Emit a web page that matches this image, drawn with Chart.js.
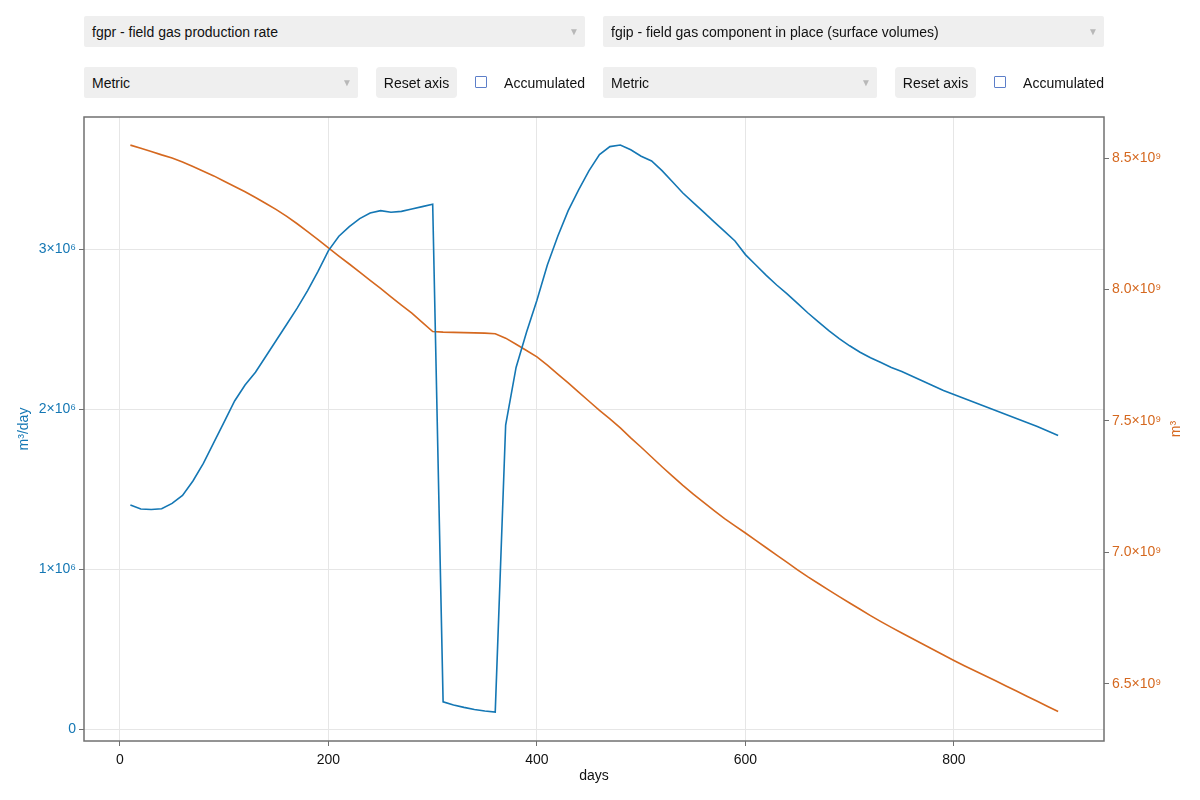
<!DOCTYPE html>
<html>
<head>
<meta charset="utf-8">
<script src="https://cdn.jsdelivr.net/npm/chart.js@4.4.1/dist/chart.umd.min.js"></script>
<style>
  html, body { margin: 0; padding: 0; background: #fff; }
  body { width: 1200px; height: 800px; position: relative; overflow: hidden;
         font-family: "Liberation Sans", Arial, sans-serif; font-size: 14px; color: #111; }
  #wrap { position: absolute; left: 0; top: 0; width: 1200px; height: 800px; }
  .box { position: absolute; background: #efefef; height: 31px; line-height: 32px;
         padding-left: 8px; box-sizing: border-box; border-radius: 2px; }
  .box .arr { position: absolute; right: 6px; top: 0; color: #b8b8b8; font-size: 10px; }
  .btn { position: absolute; background: #efefef; height: 31px; line-height: 32px;
         text-align: center; border-radius: 4px; }
  .chk { position: absolute; width: 10px; height: 10px; border: 1.5px solid #5d7fc9; border-radius: 1px; }
  .lbl { position: absolute; height: 31px; line-height: 32px; text-align: right; }
</style>
</head>
<body>
<div id="wrap"><canvas id="chart" width="1200" height="800"></canvas></div>

<div class="box" style="left:84px;top:16px;width:501px">fgpr - field gas production rate<span class="arr">&#9660;</span></div>
<div class="box" style="left:603px;top:16px;width:501px">fgip - field gas component in place (surface volumes)<span class="arr">&#9660;</span></div>

<div class="box" style="left:84px;top:67px;width:274px">Metric<span class="arr">&#9660;</span></div>
<div class="btn" style="left:376px;top:67px;width:81px">Reset axis</div>
<div class="chk" style="left:475px;top:76px"></div>
<div class="lbl" style="left:500px;top:67px;width:85px">Accumulated</div>

<div class="box" style="left:603px;top:67px;width:274px">Metric<span class="arr">&#9660;</span></div>
<div class="btn" style="left:895px;top:67px;width:81px">Reset axis</div>
<div class="chk" style="left:994px;top:76px"></div>
<div class="lbl" style="left:1019px;top:67px;width:85px">Accumulated</div>

<script>
const days = [
  10, 20, 30, 40, 50, 60, 70, 80, 90, 100,
  110, 120, 130, 140, 150, 160, 170, 180, 190, 200,
  210, 220, 230, 240, 250, 260, 270, 280, 290, 300,
  310, 320, 330, 340, 350, 360, 370, 380, 390, 400,
  410, 420, 430, 440, 450, 460, 470, 480, 490, 500,
  510, 520, 530, 540, 550, 560, 570, 580, 590, 600,
  610, 620, 630, 640, 650, 660, 670, 680, 690, 700,
  710, 720, 730, 740, 750, 760, 770, 780, 790, 800,
  810, 820, 830, 840, 850, 860, 870, 880, 890, 900
];

// fgpr, m3/day (millions)
const fgpr = [
  1.40, 1.375, 1.372, 1.377, 1.41, 1.46, 1.55, 1.66, 1.79, 1.92,
  2.05, 2.15, 2.23, 2.33, 2.43, 2.53, 2.63, 2.74, 2.86, 2.99,
  3.08, 3.14, 3.19, 3.225, 3.24, 3.23, 3.235, 3.25, 3.265, 3.28,
  0.17, 0.15, 0.135, 0.122, 0.112, 0.106, 1.90, 2.26, 2.48, 2.68,
  2.90, 3.08, 3.24, 3.37, 3.49, 3.59, 3.64, 3.65, 3.62, 3.58,
  3.55, 3.49, 3.42, 3.35, 3.29, 3.23, 3.17, 3.11, 3.05, 2.965,
  2.90, 2.835, 2.775, 2.72, 2.66, 2.60, 2.545, 2.49, 2.44, 2.395,
  2.355, 2.32, 2.29, 2.26, 2.235, 2.205, 2.175, 2.145, 2.115, 2.09,
  2.065, 2.04, 2.015, 1.99, 1.965, 1.94, 1.915, 1.89, 1.862, 1.835
];

// fgip, m3 (billions)
const fgip = [
  8.549, 8.537, 8.525, 8.512, 8.500, 8.485, 8.468, 8.450, 8.432, 8.412,
  8.392, 8.372, 8.350, 8.327, 8.304, 8.278, 8.250, 8.220, 8.190, 8.158,
  8.127, 8.097, 8.066, 8.035, 8.004, 7.972, 7.941, 7.910, 7.875, 7.840,
  7.838, 7.837, 7.836, 7.835, 7.834, 7.832, 7.815, 7.792, 7.768, 7.744,
  7.712, 7.678, 7.645, 7.610, 7.575, 7.540, 7.508, 7.474, 7.436, 7.400,
  7.363, 7.326, 7.290, 7.255, 7.222, 7.190, 7.159, 7.129, 7.101, 7.074,
  7.046, 7.018, 6.990, 6.962, 6.934, 6.907, 6.882, 6.857, 6.832, 6.808,
  6.784, 6.760, 6.737, 6.715, 6.694, 6.673, 6.652, 6.631, 6.610, 6.589,
  6.569, 6.550, 6.531, 6.512, 6.492, 6.473, 6.453, 6.434, 6.414, 6.395
];

const xTicks = [0, 200, 400, 600, 800];
const leftTicks = [0, 1e6, 2e6, 3e6];
const leftTickLabels = ["0", "1×10⁶", "2×10⁶", "3×10⁶"];
const rightTicks = [6.5e9, 7.0e9, 7.5e9, 8.0e9, 8.5e9];
const rightTickLabels = ["6.5×10⁹", "7.0×10⁹", "7.5×10⁹", "8.0×10⁹", "8.5×10⁹"];

const blue = "#1477b4";
const orange = "#d5681f";
const frameColor = "#707070";
const font = { family: "Liberation Sans, Arial, sans-serif", size: 14 };

const fixedTicks = (vals) => (scale) => { scale.ticks = vals.map(v => ({ value: v })); };

// frame + axis titles
const decor = {
  id: "decor",
  afterDraw(chart) {
    const { ctx, chartArea: a } = chart;
    ctx.save();
    ctx.strokeStyle = frameColor;
    ctx.lineWidth = 1.5;
    ctx.strokeRect(a.left, a.top, a.right - a.left, a.bottom - a.top);

    ctx.font = "14px Liberation Sans, Arial, sans-serif";
    ctx.textAlign = "center";
    ctx.textBaseline = "middle";
    ctx.fillStyle = "#111";
    ctx.fillText("days", (a.left + a.right) / 2, 776);

    const mid = (a.top + a.bottom) / 2;
    ctx.save();
    ctx.fillStyle = blue;
    ctx.translate(24, mid);
    ctx.rotate(-Math.PI / 2);
    ctx.fillText("m³/day", 0, 0);
    ctx.restore();

    ctx.save();
    ctx.fillStyle = orange;
    ctx.translate(1176, mid);
    ctx.rotate(-Math.PI / 2);
    ctx.fillText("m³", 0, 0);
    ctx.restore();
    ctx.restore();
  }
};

new Chart(document.getElementById("chart"), {
  type: "line",
  data: {
    datasets: [
      {
        label: "fgpr",
        data: days.map((d, i) => ({ x: d, y: fgpr[i] * 1e6 })),
        borderColor: blue,
        borderWidth: 1.6,
        pointRadius: 0,
        tension: 0,
        yAxisID: "y"
      },
      {
        label: "fgip",
        data: days.map((d, i) => ({ x: d, y: fgip[i] * 1e9 })),
        borderColor: orange,
        borderWidth: 1.6,
        pointRadius: 0,
        tension: 0,
        yAxisID: "y2"
      }
    ]
  },
  options: {
    responsive: false,
    animation: false,
    layout: { padding: { top: 117, left: 0, right: 0, bottom: 0 } },
    plugins: { legend: { display: false }, tooltip: { enabled: false } },
    scales: {
      x: {
        type: "linear",
        min: -34.5,
        max: 944,
        afterBuildTicks: fixedTicks(xTicks),
        afterFit: (s) => { s.height = 59; },
        border: { display: false },
        grid: { color: "#e6e6e6", lineWidth: 1, tickLength: 5, tickColor: frameColor },
        ticks: { color: "#111", font, padding: 6, maxRotation: 0 }
      },
      y: {
        position: "left",
        min: -0.075e6,
        max: 3.825e6,
        afterBuildTicks: fixedTicks(leftTicks),
        afterFit: (s) => { s.width = 84; },
        border: { display: false },
        grid: { color: "#e6e6e6", lineWidth: 1, tickLength: 5, tickColor: frameColor },
        ticks: {
          color: blue, font, padding: 3,
          callback: (v) => leftTickLabels[leftTicks.indexOf(v)]
        }
      },
      y2: {
        position: "right",
        min: 6.283e9,
        max: 8.656e9,
        afterBuildTicks: fixedTicks(rightTicks),
        afterFit: (s) => { s.width = 96; },
        border: { display: false },
        grid: { drawOnChartArea: false, tickLength: 5, tickColor: frameColor },
        ticks: {
          color: orange, font, padding: 3,
          callback: (v) => rightTickLabels[rightTicks.indexOf(v)]
        }
      }
    }
  },
  plugins: [decor]
});
</script>
</body>
</html>
